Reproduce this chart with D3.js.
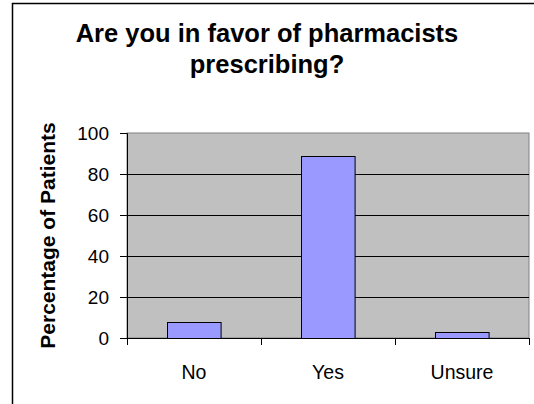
<!DOCTYPE html>
<html>
<head>
<meta charset="utf-8">
<script src="https://cdn.jsdelivr.net/npm/d3@7"></script>
<style>
    body { margin: 0; background: #fff; }
    text { font-family: Arial, "Liberation Sans", sans-serif; }
</style>
</head>
<body>
<div id="chart"></div>
<script>
// data
const categories = ["No", "Yes", "Unsure"];
const percentages = [8, 89, 3];
const yTicks = [0, 20, 40, 60, 80, 100];
const titleLines = ["Are you in favor of pharmacists", "prescribing?"];
const yLabel = "Percentage of Patients";

const W = 534, H = 404;
const margin = {top: 133, right: 5, bottom: 66, left: 127};
const width = W - margin.left - margin.right;
const height = H - margin.top - margin.bottom;

const svg = d3.select("#chart").append("svg")
    .attr("width", W)
    .attr("height", H);

// outer chart border (right / bottom edges fall outside the frame)
svg.append("rect")
    .attr("x", 12.5).attr("y", 3.5)
    .attr("width", 540).attr("height", 420)
    .attr("fill", "none")
    .attr("stroke", "#000")
    .attr("stroke-width", 1.5);

// title
svg.append("g")
    .selectAll("text")
    .data(titleLines)
    .join("text")
    .attr("x", W / 2)
    .attr("y", (d, i) => 41.5 + i * 31.5)
    .attr("text-anchor", "middle")
    .attr("font-weight", "bold")
    .attr("font-size", "25.5px")
    .text(d => d);

const g = svg.append("g")
    .attr("transform", `translate(${margin.left},${margin.top})`);

// scales
const x = d3.scaleBand()
    .domain(categories)
    .range([0, width])
    .paddingInner(0.6)
    .paddingOuter(0.3);
const y = d3.scaleLinear()
    .domain([0, 100])
    .range([height, 0]);

// plot area
g.append("rect")
    .attr("x", 0).attr("y", 0)
    .attr("width", width).attr("height", height)
    .attr("fill", "#c0c0c0")
    .attr("stroke", "#808080")
    .attr("stroke-width", 1);

// gridlines
g.append("g")
    .selectAll("line")
    .data(yTicks.filter(t => t > 0 && t < 100))
    .join("line")
    .attr("x1", 0).attr("x2", width)
    .attr("y1", d => Math.round(y(d)) + 0.5)
    .attr("y2", d => Math.round(y(d)) + 0.5)
    .attr("stroke", "#000")
    .attr("stroke-width", 1);

// bars
g.selectAll(".bar")
    .data(percentages)
    .join("rect")
    .attr("class", "bar")
    .attr("x", (d, i) => Math.round(x(categories[i])) + 0.5)
    .attr("y", d => Math.round(y(d)) + 0.5)
    .attr("width", x.bandwidth())
    .attr("height", d => Math.round(y(0)) - Math.round(y(d)))
    .attr("fill", "#9999ff")
    .attr("stroke", "#000")
    .attr("stroke-width", 1);

// y axis
const yAxis = g.append("g")
    .call(d3.axisLeft(y).tickValues(yTicks).tickSize(7).tickPadding(11));
yAxis.select(".domain").attr("stroke", "#000");
yAxis.selectAll(".tick line").attr("stroke", "#000");
yAxis.selectAll("text")
    .attr("font-size", "19px")
    .attr("font-family", "Arial, 'Liberation Sans', sans-serif")
    .attr("fill", "#000");

// x axis: ticks sit on the category boundaries
const xAxis = g.append("g")
    .attr("transform", `translate(0,${height})`);
xAxis.append("line")
    .attr("x1", 0).attr("x2", width)
    .attr("y1", 0.5).attr("y2", 0.5)
    .attr("stroke", "#000");
xAxis.selectAll(".bound")
    .data(d3.range(categories.length + 1))
    .join("line")
    .attr("class", "bound")
    .attr("x1", i => Math.round(i * x.step()) + 0.5)
    .attr("x2", i => Math.round(i * x.step()) + 0.5)
    .attr("y1", 0).attr("y2", 7)
    .attr("stroke", "#000");
xAxis.selectAll(".cat")
    .data(categories)
    .join("text")
    .attr("class", "cat")
    .attr("x", d => x(d) + x.bandwidth() / 2)
    .attr("y", 41)
    .attr("text-anchor", "middle")
    .attr("font-size", "19.5px")
    .text(d => d);

// y axis title
svg.append("text")
    .attr("transform", `translate(55,${margin.top + height / 2}) rotate(-90)`)
    .attr("text-anchor", "middle")
    .attr("font-weight", "bold")
    .attr("font-size", "21px")
    .text(yLabel);
</script>
</body>
</html>
